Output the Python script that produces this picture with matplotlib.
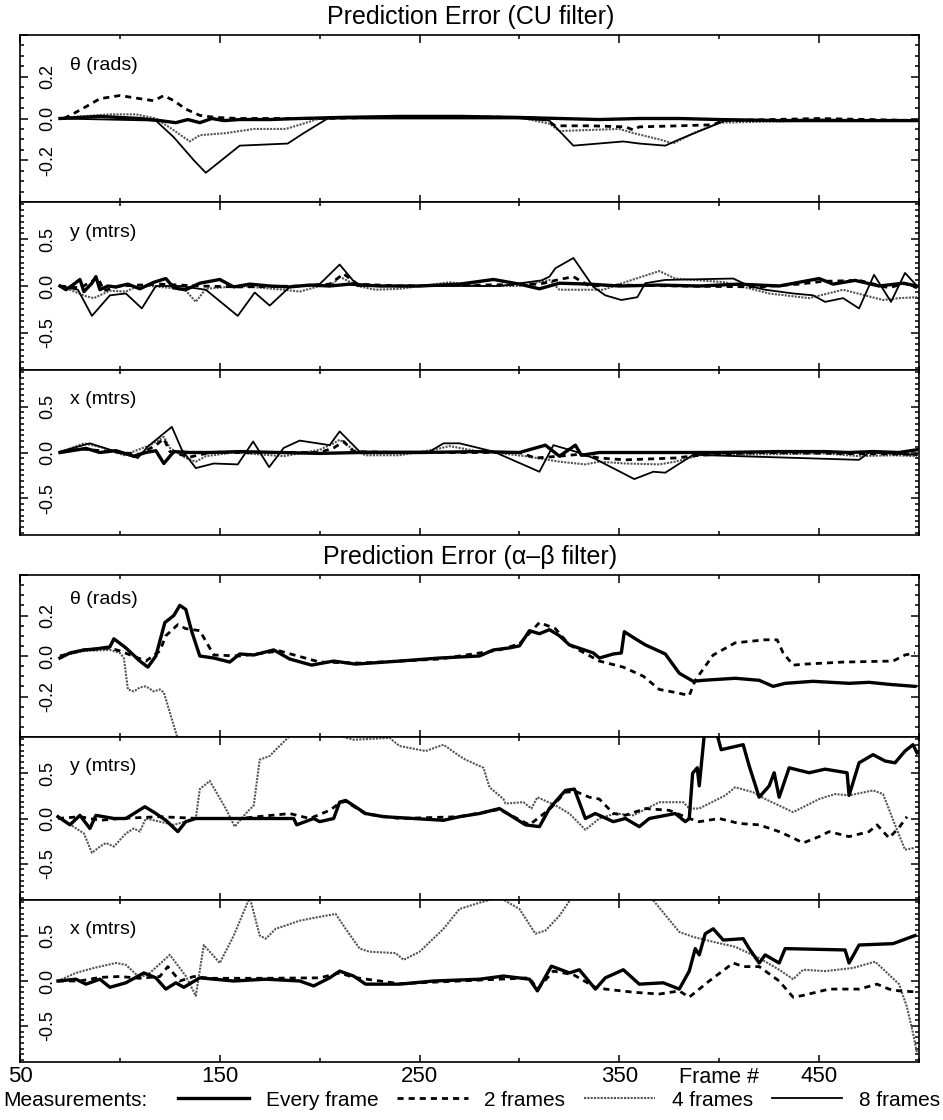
import matplotlib
matplotlib.use("Agg")
import matplotlib.pyplot as plt
from matplotlib.ticker import FixedLocator, MultipleLocator
from matplotlib.transforms import blended_transform_factory

plt.rcParams['font.family'] = ['Liberation Sans', 'DejaVu Sans']

# ---------------- data (frame numbers / prediction errors) ----------------
# CU filter, theta (rads)
cu_th_every_x = [70, 80, 90, 100, 110, 120, 128, 134, 140, 146, 152, 160, 175, 190, 210, 240, 270, 300, 320, 340, 360, 380, 400, 430, 460, 500]
cu_th_every_y = [0.0, 0.005, 0.01, 0.005, 0.0, -0.01, -0.02, -0.005, -0.02, 0.0, -0.01, -0.005, -0.005, 0.0, 0.005, 0.01, 0.01, 0.005, 0.0, -0.005, 0.0, 0.0, -0.005, -0.01, -0.01, -0.01]
cu_th_2_x = [72, 80, 90, 100, 110, 117, 122, 127, 133, 140, 148, 160, 200, 260, 300, 312, 318, 335, 353, 357, 360, 380, 397, 402, 450, 500]
cu_th_2_y = [0.0, 0.04, 0.095, 0.11, 0.095, 0.085, 0.11, 0.085, 0.045, 0.015, 0.005, 0.0, 0.0, 0.01, 0.005, 0.0, -0.035, -0.035, -0.04, -0.055, -0.04, -0.035, -0.03, -0.01, 0.0, -0.01]
cu_th_4_x = [70, 80, 95, 108, 118, 126, 135, 140, 153, 167, 183, 190, 200, 250, 300, 315, 320, 335, 350, 357, 370, 377, 387, 400, 450, 500]
cu_th_4_y = [0.0, 0.01, 0.02, 0.02, 0.0, -0.05, -0.11, -0.08, -0.07, -0.05, -0.05, -0.03, 0.0, 0.01, 0.005, -0.025, -0.06, -0.055, -0.05, -0.07, -0.1, -0.12, -0.07, -0.02, -0.01, -0.01]
cu_th_8_x = [70, 118, 127, 137, 143, 160, 184, 192, 204, 300, 315, 327, 352, 360, 373, 380, 403, 450, 500]
cu_th_8_y = [0.0, -0.01, -0.09, -0.2, -0.26, -0.13, -0.12, -0.07, 0.0, 0.0, -0.01, -0.13, -0.11, -0.12, -0.13, -0.1, -0.01, -0.005, -0.01]

# CU filter, y (mtrs)
cu_y_every_x = [70, 73, 77, 80, 82, 86, 88, 90, 94, 98, 104, 110, 117, 123, 127, 133, 140, 150, 157, 165, 175, 185, 195, 205, 215, 230, 250, 270, 287, 300, 310, 320, 335, 350, 370, 390, 410, 430, 450, 457, 468, 480, 492, 499]
cu_y_every_y = [0.0, -0.04, 0.02, 0.07, -0.06, 0.03, 0.1, -0.04, 0.0, -0.01, 0.02, -0.03, 0.04, 0.08, -0.02, -0.04, 0.03, 0.07, -0.01, 0.02, 0.0, -0.01, 0.01, 0.0, 0.02, 0.0, 0.0, 0.02, 0.07, 0.02, -0.03, 0.03, 0.02, 0.0, 0.01, 0.0, 0.02, 0.0, 0.08, 0.02, 0.06, 0.0, 0.03, 0.0]
cu_y_2_x = [70, 80, 86, 89, 92, 100, 120, 140, 160, 190, 205, 212, 219, 240, 280, 310, 320, 327, 335, 350, 380, 420, 440, 452, 470, 485, 493, 499]
cu_y_2_y = [0.0, -0.02, 0.05, 0.09, -0.05, 0.0, 0.02, 0.0, -0.01, 0.0, 0.02, 0.13, 0.02, 0.0, 0.01, 0.02, 0.07, 0.1, 0.0, 0.01, 0.0, -0.01, 0.02, 0.05, 0.06, -0.02, 0.03, -0.02]
cu_y_4_x = [70, 75, 83, 87, 95, 103, 107, 115, 125, 133, 138, 143, 160, 182, 190, 200, 207, 210, 219, 228, 240, 265, 280, 300, 315, 320, 342, 357, 370, 378, 403, 425, 445, 462, 482, 490, 499]
cu_y_4_y = [0.0, -0.04, -0.11, -0.13, -0.05, -0.06, -0.02, 0.0, -0.02, -0.05, -0.17, -0.03, 0.0, -0.04, -0.06, 0.0, 0.03, 0.1, 0.0, -0.04, -0.03, 0.04, 0.0, 0.0, 0.065, -0.04, -0.04, 0.07, 0.16, 0.08, 0.04, -0.08, -0.13, -0.04, -0.15, -0.13, -0.12]
cu_y_8_x = [70, 79, 86, 95, 103, 111, 118, 130, 143, 159, 167.5, 175, 185, 200, 210, 219, 250, 290, 311, 315, 318, 327, 337, 343, 351, 359, 363, 373, 407, 415, 423, 437, 447, 453, 462, 470, 477.5, 486, 493, 499]
cu_y_8_y = [0.0, -0.04, -0.32, -0.1, -0.08, -0.24, 0.0, 0.0, -0.04, -0.32, -0.07, -0.21, -0.01, 0.02, 0.23, 0.0, 0.0, 0.0, 0.06, 0.1, 0.19, 0.3, -0.01, -0.1, -0.15, -0.12, 0.03, 0.065, 0.08, 0.0, -0.04, -0.08, -0.1, -0.17, -0.13, -0.24, 0.12, -0.17, 0.14, 0.0]

# CU filter, x (mtrs)
cu_x_every_x = [70, 76, 83, 90, 98, 107, 113, 118, 122, 127, 135, 145, 160, 180, 200, 220, 250, 280, 300, 313, 320, 328, 331, 340, 360, 400, 430, 453, 465, 477, 490, 499]
cu_x_every_y = [0.0, 0.02, 0.045, 0.0, 0.02, -0.04, 0.0, 0.02, -0.12, 0.01, 0.0, 0.0, 0.01, 0.0, -0.01, 0.0, 0.0, 0.01, 0.0, 0.08, -0.04, 0.08, -0.03, 0.0, 0.0, 0.0, 0.01, 0.01, 0.0, 0.01, 0.0, 0.03]
cu_x_2_x = [70, 80, 90, 100, 110, 118, 122, 125, 135, 145, 170, 200, 207, 212, 217, 240, 280, 300, 308, 320, 330, 340, 353, 378, 390, 420, 460, 499]
cu_x_2_y = [0.0, 0.04, 0.02, 0.0, -0.02, 0.08, 0.15, 0.01, -0.05, 0.0, 0.0, 0.0, 0.05, 0.12, 0.01, 0.0, 0.0, 0.0, -0.06, -0.04, -0.02, -0.06, -0.08, -0.06, -0.03, 0.0, -0.01, -0.02]
cu_x_4_x = [70, 82, 92, 102, 115, 122, 125, 133, 138, 143, 157, 182, 200, 207, 210, 217, 223, 240, 257, 265, 280, 287, 303, 320, 333, 340, 353, 370, 378, 390, 453, 470, 487, 499]
cu_x_4_y = [0.0, 0.1, 0.05, -0.03, 0.08, 0.17, 0.05, -0.06, -0.1, -0.04, 0.0, -0.04, 0.03, 0.1, 0.14, 0.03, -0.03, -0.03, 0.03, 0.07, 0.01, 0.0, -0.04, -0.1, -0.13, -0.1, -0.12, -0.13, -0.1, -0.03, -0.01, -0.04, -0.03, -0.04]
cu_x_8_x = [70, 85, 95, 109, 114, 126, 131, 138, 147, 159, 166.7, 174.7, 182, 190, 205, 210, 220, 255, 262, 270, 287, 310, 317, 328, 337, 357.5, 367, 373, 387, 470, 475, 499]
cu_x_8_y = [0.01, 0.1, 0.03, -0.06, 0.065, 0.28, 0.03, -0.17, -0.12, -0.13, 0.12, -0.16, 0.05, 0.13, 0.08, 0.23, 0.01, 0.01, 0.1, 0.1, 0.01, -0.21, 0.08, 0.01, -0.06, -0.29, -0.21, -0.22, -0.025, -0.08, 0.0, -0.025]

# alpha-beta filter, theta (rads)
ab_th_every_x = [70, 75, 82, 88, 95, 97, 103, 110, 114, 118, 122.5, 127, 130, 133, 136, 140, 147, 155, 160, 167, 177, 185, 196, 207, 218, 240, 260, 280, 287, 295, 300, 305, 310, 315, 320, 325, 337, 340, 347, 351, 352.5, 358, 363, 373, 380, 387, 392, 408, 420, 427, 433, 447, 465, 475, 485, 498]
ab_th_every_y = [-0.01, 0.015, 0.03, 0.035, 0.045, 0.085, 0.04, -0.025, -0.055, 0.0, 0.165, 0.2, 0.25, 0.23, 0.12, 0.0, -0.01, -0.03, 0.01, 0.005, 0.03, -0.015, -0.045, -0.025, -0.04, -0.025, -0.01, 0.0, 0.03, 0.04, 0.05, 0.125, 0.11, 0.13, 0.1, 0.055, 0.015, -0.01, 0.01, 0.015, 0.12, 0.085, 0.055, 0.01, -0.085, -0.125, -0.12, -0.11, -0.12, -0.15, -0.135, -0.125, -0.135, -0.13, -0.14, -0.15]
ab_th_2_x = [70, 82, 95, 100, 113, 120, 123, 129, 133, 140, 147, 160, 180, 200, 220, 260, 290, 300, 310, 318, 325, 340, 352, 362, 370, 378, 385, 388, 397, 408, 423, 429, 432, 437, 443, 462, 487, 493, 498]
ab_th_2_y = [0.0, 0.03, 0.04, 0.025, -0.025, 0.025, 0.1, 0.155, 0.135, 0.125, 0.005, 0.0, 0.025, -0.03, -0.035, -0.015, 0.03, 0.06, 0.165, 0.135, 0.055, -0.025, -0.055, -0.1, -0.165, -0.18, -0.195, -0.12, 0.005, 0.065, 0.08, 0.08, 0.015, -0.045, -0.04, -0.03, -0.025, 0.005, 0.015]
ab_th_4_x = [70, 82, 95, 100, 102, 104, 107, 110, 113, 117, 120, 122, 129]
ab_th_4_y = [0.0, 0.025, 0.03, 0.015, -0.01, -0.165, -0.175, -0.155, -0.15, -0.175, -0.165, -0.18, -0.41]

# alpha-beta filter, y (mtrs)
ab_y_every_x = [69, 75, 80, 85, 88, 97, 103, 112.5, 117, 123, 129, 133, 138, 157, 173, 187, 188.5, 197, 200, 207, 210, 213, 223, 232, 262, 270, 280, 290, 303, 310, 315, 323, 327.5, 333, 338, 347, 353, 360, 365, 378, 383, 385, 386.7, 389, 390, 392.5, 399, 401, 412, 415, 420, 425, 427.5, 430, 435, 445, 453, 464, 465, 470, 477, 483, 488, 493, 497, 499]
ab_y_every_y = [0.02, -0.07, 0.035, -0.11, 0.035, 0.0, 0.0, 0.13, 0.07, -0.02, -0.145, -0.035, 0.0, 0.0, 0.0, 0.0, -0.07, 0.0, -0.035, 0.0, 0.18, 0.2, 0.055, 0.02, -0.02, 0.02, 0.055, 0.11, -0.07, -0.09, 0.11, 0.31, 0.325, 0.0, 0.055, -0.035, 0.0, -0.09, 0.0, 0.055, -0.035, 0.0, 0.5, 0.56, 0.36, 0.92, 0.92, 0.76, 0.815, 0.58, 0.235, 0.36, 0.505, 0.235, 0.56, 0.505, 0.545, 0.505, 0.255, 0.615, 0.705, 0.635, 0.615, 0.745, 0.815, 0.725]
ab_y_2_x = [69, 80, 90, 100, 120, 140, 160, 185, 195, 205, 210, 213, 223, 240, 270, 290, 305, 315, 323, 328, 335, 340, 347, 353, 363, 375, 385, 390, 400, 410, 420, 430, 437, 442, 450, 455, 465, 475, 479, 485, 490, 494]
ab_y_2_y = [0.0, 0.02, -0.02, 0.0, 0.02, 0.0, 0.0, 0.055, 0.0, 0.09, 0.17, 0.19, 0.05, 0.0, 0.02, 0.1, -0.07, 0.1, 0.29, 0.3, 0.235, 0.215, 0.055, 0.035, 0.11, 0.09, 0.0, -0.035, 0.0, -0.055, -0.07, -0.145, -0.215, -0.27, -0.2, -0.145, -0.2, -0.145, -0.07, -0.215, -0.1, 0.02]
ab_y_4_x = [69, 82, 86, 90, 93, 97, 103, 107, 110, 113, 127, 138, 140, 145, 153, 157.5, 163, 167, 170, 175, 178, 185, 195, 205, 217, 235, 240, 253, 262, 270, 273, 282, 285, 292, 293, 302, 306, 309, 318, 325, 333, 340, 348, 357, 365, 370, 382, 385, 390, 403, 408, 417, 423, 437, 450, 458, 465, 477, 482, 488, 493, 497.5]
ab_y_4_y = [0.02, -0.165, -0.38, -0.31, -0.27, -0.31, -0.165, -0.11, -0.145, 0.0, -0.07, 0.0, 0.325, 0.415, 0.11, -0.09, 0.055, 0.145, 0.65, 0.69, 0.76, 0.91, 0.94, 0.94, 0.87, 0.89, 0.8, 0.745, 0.815, 0.69, 0.65, 0.56, 0.345, 0.215, 0.165, 0.18, 0.11, 0.235, 0.145, 0.055, -0.125, 0.0, 0.055, 0.035, 0.125, 0.18, 0.18, 0.11, 0.11, 0.255, 0.345, 0.29, 0.215, 0.07, 0.215, 0.27, 0.255, 0.31, 0.27, -0.07, -0.345, -0.325]

# alpha-beta filter, x (mtrs)
ab_x_every_x = [69, 78, 83, 90, 95, 103, 112, 118, 123, 128, 132, 140, 157, 173, 190, 197, 205, 210, 217, 223, 240, 257, 280, 292, 305, 309, 316, 325, 330, 338, 343, 352, 360, 372, 380, 385, 388, 390, 393, 397, 402, 412, 415, 420, 423, 430, 433, 463, 465, 470, 487, 498]
ab_x_every_y = [0.0, 0.02, -0.035, 0.02, -0.07, -0.02, 0.09, 0.035, -0.09, -0.02, -0.07, 0.035, 0.0, 0.02, 0.0, -0.055, 0.035, 0.11, 0.055, -0.035, -0.035, 0.0, 0.02, 0.055, 0.02, -0.11, 0.165, 0.09, 0.125, -0.09, 0.035, 0.125, -0.035, -0.02, -0.09, 0.11, 0.36, 0.29, 0.525, 0.58, 0.455, 0.47, 0.36, 0.2, 0.29, 0.2, 0.36, 0.345, 0.2, 0.4, 0.415, 0.505]
ab_x_2_x = [69, 80, 90, 100, 110, 120, 124, 130, 137, 145, 170, 200, 210, 217, 240, 280, 305, 309, 317, 327, 338, 343, 357, 370, 380, 385, 395, 407, 412, 420, 430, 437, 442, 455, 470, 479, 485, 490, 498]
ab_x_2_y = [0.0, 0.0, 0.04, 0.05, 0.03, 0.05, 0.16, 0.0, 0.05, 0.03, 0.03, 0.035, 0.09, 0.04, -0.03, 0.01, 0.035, -0.09, 0.11, 0.07, -0.07, -0.09, -0.125, -0.145, -0.11, -0.18, 0.0, 0.2, 0.16, 0.16, 0.0, -0.18, -0.16, -0.09, -0.09, -0.035, -0.09, -0.11, -0.12]
ab_x_4_x = [69, 78, 87, 98, 103, 110, 115, 125, 133, 138, 142, 150, 157, 165, 170, 173, 178, 190, 198, 208, 213, 220, 225, 238, 242, 250, 262, 270, 280, 290, 300, 308, 313, 320, 326, 340, 365, 380, 387, 397, 408, 420, 430, 437, 442, 453, 467, 478, 485, 490, 494, 497, 499]
ab_x_4_y = [0.0, 0.09, 0.145, 0.2, 0.18, 0.035, 0.09, 0.29, 0.055, -0.165, 0.4, 0.2, 0.505, 0.93, 0.505, 0.47, 0.58, 0.67, 0.705, 0.745, 0.58, 0.36, 0.325, 0.31, 0.235, 0.325, 0.58, 0.8, 0.87, 0.93, 0.8, 0.525, 0.56, 0.725, 0.92, 0.95, 0.95, 0.545, 0.49, 0.435, 0.38, 0.255, 0.125, 0.02, 0.125, 0.11, 0.145, 0.215, 0.07, -0.035, -0.29, -0.58, -0.8]

series_labels = ['Every frame', '2 frames', '4 frames', '8 frames']
panel_labels = ['\u03b8 (rads)', 'y (mtrs)', 'x (mtrs)', '\u03b8 (rads)', 'y (mtrs)', 'x (mtrs)']
titles = ['Prediction Error (CU filter)', 'Prediction Error (\u03b1\u2013\u03b2 filter)']
x_tick_vals = [50, 150, 250, 350, 450]
x_tick_labels = ['50', '150', '250', '350', '450']
x_minor_vals = [100, 200, 300, 400, 500]

# ---------------- styles ----------------
STYLES = {
    'Every frame': dict(color='black', lw=2.4, ls='-', zorder=5),
    '2 frames': dict(color='black', lw=2.0, ls=(0, (2.2, 1.8)), zorder=4),
    '4 frames': dict(color='#555555', lw=1.5, ls=(0, (1.0, 0.6)), zorder=2),
    '8 frames': dict(color='black', lw=1.3, ls='-', zorder=3),
}

panels = [
    ('th', [(cu_th_every_x, cu_th_every_y), (cu_th_2_x, cu_th_2_y), (cu_th_4_x, cu_th_4_y), (cu_th_8_x, cu_th_8_y)]),
    ('m', [(cu_y_every_x, cu_y_every_y), (cu_y_2_x, cu_y_2_y), (cu_y_4_x, cu_y_4_y), (cu_y_8_x, cu_y_8_y)]),
    ('m', [(cu_x_every_x, cu_x_every_y), (cu_x_2_x, cu_x_2_y), (cu_x_4_x, cu_x_4_y), (cu_x_8_x, cu_x_8_y)]),
    ('th', [(ab_th_every_x, ab_th_every_y), (ab_th_2_x, ab_th_2_y), (ab_th_4_x, ab_th_4_y), None]),
    ('m', [(ab_y_every_x, ab_y_every_y), (ab_y_2_x, ab_y_2_y), (ab_y_4_x, ab_y_4_y), None]),
    ('m', [(ab_x_every_x, ab_x_every_y), (ab_x_2_x, ab_x_2_y), (ab_x_4_x, ab_x_4_y), None]),
]

W, H = 943, 1120
fig = plt.figure(figsize=(W / 100, H / 100), dpi=100)

# panel pixel extents (top, bottom)
extents = [(35, 202), (202, 370), (370, 535), (575, 737), (737, 900), (900, 1062)]
left_px, right_px = 20, 919

handles = {}
axes = []
for i, ((kind, data), (t, b)) in enumerate(zip(panels, extents)):
    ax = fig.add_axes([left_px / W, 1 - b / H, (right_px - left_px) / W, (b - t) / H])
    axes.append(ax)
    for lab, d in zip(series_labels, data):
        if d is None:
            continue
        ln, = ax.plot(d[0], d[1], label=lab, **STYLES[lab])
        handles.setdefault(lab, ln)
    ax.set_xlim(50, 500)
    if kind == 'th':
        ax.set_ylim(-0.4, 0.4)
        ax.set_yticks([-0.4, -0.2, 0.0, 0.2, 0.4], ['', '-0.2', '0.0', '0.2', ''])
        ax.yaxis.set_minor_locator(MultipleLocator(0.05))
    else:
        ax.set_ylim(-0.9, 0.9)
        ax.set_yticks([-0.5, 0.0, 0.5], ['-0.5', '0.0', '0.5'])
        ax.yaxis.set_minor_locator(MultipleLocator(0.0625))
    ax.xaxis.set_major_locator(FixedLocator(x_tick_vals))
    ax.xaxis.set_minor_locator(FixedLocator(x_minor_vals))
    ax.tick_params(axis='both', which='both', direction='in', top=True, bottom=True,
                   left=True, right=True, width=1.1)
    ax.tick_params(axis='x', which='major', length=5.4)
    ax.tick_params(axis='x', which='minor', length=2.6)
    ax.tick_params(axis='y', which='major', length=6.0, labelrotation=90, pad=-26, labelsize=13)
    ax.tick_params(axis='y', which='minor', length=3.2)
    for lab in ax.get_yticklabels():
        lab.set_verticalalignment('center')
    if i == 5:
        ax.set_xticklabels(x_tick_labels)
        ax.tick_params(axis='x', which='major', labelsize=16, pad=3.0)
        trans = blended_transform_factory(ax.transData, ax.transAxes)
        ax.text(400, -0.028, 'Frame #', transform=trans, ha='center', va='top', fontsize=15.5)
    else:
        ax.tick_params(axis='x', labelbottom=False)
    for sp in ax.spines.values():
        sp.set_linewidth(1.2)
    ytop = 0.9 if i == 3 else 0.87
    ax.text(0.056, ytop, panel_labels[i], transform=ax.transAxes, ha='left', va='top', fontsize=14)

fig.text(471 / W, 1 - 17 / H, titles[0], ha='center', va='center', fontsize=18)
fig.text(470 / W, 1 - 557 / H, titles[1], ha='center', va='center', fontsize=18)

fig.text(3 / W, 1 - 1100 / H, 'Measurements:', ha='left', va='center', fontsize=15)
fig.legend([handles[l] for l in series_labels], series_labels, ncol=4, loc='center left',
           bbox_to_anchor=(178 / W, 1 - 1100 / H), frameon=False, fontsize=15,
           handlelength=3.4, handletextpad=0.8, columnspacing=0.9, borderpad=0, borderaxespad=0)

fig.savefig('out.png', dpi=100)
